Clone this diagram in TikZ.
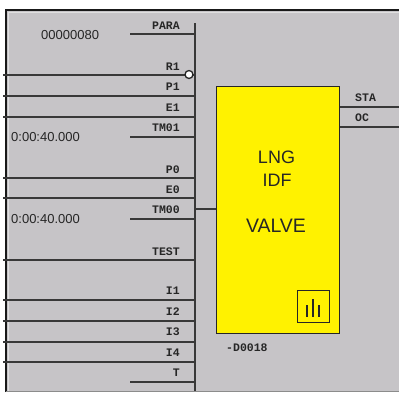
\documentclass[tikz,border=0pt]{standalone}
\usepackage{fontspec}
\setmainfont{Liberation Sans}
\newfontfamily\pinfont{Liberation Mono}[Scale=1]
\tikzset{
  wire/.style={draw=black!78,line width=1.3pt},
  pin/.style={font=\pinfont\bfseries\fontsize{11.5}{11.5}\selectfont,anchor=east,inner sep=0pt,text=black!85},
  val/.style={font=\fontsize{13}{13}\selectfont,anchor=west,inner sep=0pt,text=black!85},
  blocktext/.style={font=\fontsize{18}{18}\selectfont,inner sep=0pt,text=black!85}
}
\begin{document}
\begin{tikzpicture}[x=1pt,y=-1pt]
\useasboundingbox (0,0) rectangle (399,392);
\fill[white] (0,0) rectangle (399,392);
\fill[fill={rgb,255:red,198;green,196;blue,199}] (6,10) rectangle (399,391);
\draw[black!12,line width=1pt] (8,392) -- (8,12) -- (399,12);
\draw[black!90,line width=1.3pt] (6,392) -- (6,10) -- (399,10);
\draw[black!45,line width=1pt] (6,391.5) -- (399,391.5);
% bus
\coordinate (bt) at (195,23);
\coordinate (bb) at (195,391);
\draw[wire] (bt) -- (bb);
% block
\node[draw=black!85,line width=1.3pt,fill=yellow,minimum width=123pt,minimum height=247pt,inner sep=0pt,anchor=north west] (blk) at (216,86) {};
\node[blocktext] (t1) at (276.5,157.5) {LNG};
\node[blocktext] (t2) at (277,180) {IDF};
\node[blocktext,font=\fontsize{19.5}{19.5}\selectfont] (t3) at (276,226) {VALVE};
\node[draw=black!85,line width=1.3pt,minimum width=32pt,minimum height=32pt,inner sep=0pt,anchor=north west] (ic) at (297,290) {};
\draw[black!85,line width=1.3pt] (307,305) -- (307,317) (313,299) -- (313,317) (319,305) -- (319,317);
% short parameter lines
\foreach \y in {34,137,219,382} \draw[wire] (130,\y) -- (195,\y);
% long input lines
\foreach \y in {75,96,117,178,198,260,300,321,342,362} \draw[wire] (3,\y) -- (195,\y);
% TM00 out
\draw[wire] (195,209) -- (blk.west |- 0,209);
% outputs
\draw[wire] (blk.east |- 0,107) -- (399,107);
\draw[wire] (blk.east |- 0,127) -- (399,127);
\node[draw=black!85,fill=white,line width=1.3pt,circle,minimum size=8pt,inner sep=0pt] (inv) at (189,74.5) {};
% labels
\foreach \n/\y/\s in {a/25.5/PARA,b/67/R1,c/87/P1,d/107.5/E1,e/128/TM01,f/169.5/P0,g/189.5/E0,h/210/TM00,i/251.5/TEST,j/291/I1,k/312/I2,l/332/I3,m/353/I4,n/373/T}
  \node[pin] (p\n) at (180,\y) {\s};
\node[pin,anchor=west] (sta) at (355,97.5) {STA};
\node[pin,anchor=west] (oc) at (355,117.5) {OC};
\node[pin,anchor=west] (tag) at (226,348) {-D0018};
\node[val] (v1) at (41,35) {00000080};
\node[val] (v2) at (11,137) {0:00:40.000};
\node[val] (v3) at (11,219) {0:00:40.000};
\end{tikzpicture}
\end{document}
